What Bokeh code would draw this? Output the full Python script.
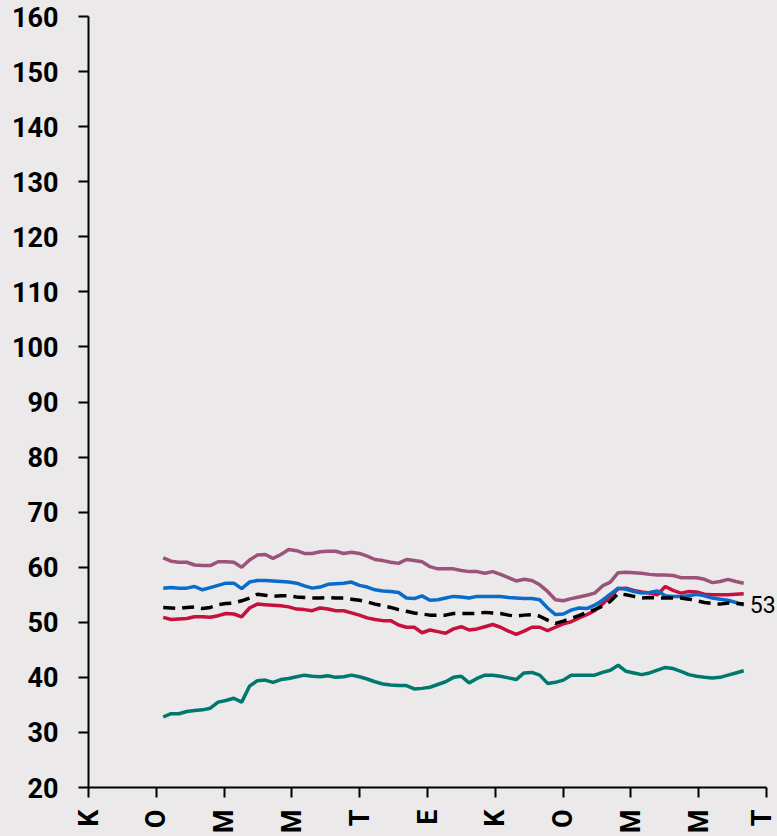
import math
import numpy as np
from bokeh.plotting import figure
from bokeh.models import Range1d, FixedTicker, Label
from bokeh.embed import file_html
from bokeh.resources import INLINE

# ---- data ----
tick_pos = list(range(11))
tick_labels = ["K", "O", "M", "M", "T", "E", "K", "O", "M", "M", "T"]
y_ticks = list(range(20, 161, 10))

series_purple = [61.7, 61.1, 60.9, 60.9, 60.4, 60.3, 60.3, 61.0, 61.0, 60.9,
                 60.0, 61.3, 62.2, 62.3, 61.6, 62.3, 63.2, 63.0, 62.5, 62.5,
                 62.8, 62.9, 62.9, 62.5, 62.7, 62.5, 62.0, 61.4, 61.2, 60.9,
                 60.7, 61.4, 61.2, 61.0, 60.1, 59.7, 59.7, 59.7, 59.4, 59.2,
                 59.2, 58.9, 59.2, 58.7, 58.1, 57.5, 57.8, 57.6, 56.8, 55.6,
                 54.1, 53.9, 54.3, 54.6, 54.9, 55.3, 56.6, 57.3, 59.0, 59.1,
                 59.0, 58.9, 58.7, 58.6, 58.6, 58.5, 58.1, 58.1, 58.1, 57.8,
                 57.2, 57.4, 57.8, 57.4, 57.1]
series_blue = [56.2, 56.3, 56.2, 56.2, 56.5, 55.9, 56.3, 56.7, 57.1, 57.1,
               56.1, 57.3, 57.6, 57.6, 57.5, 57.4, 57.3, 57.1, 56.6, 56.2,
               56.4, 56.9, 57.0, 57.1, 57.3, 56.7, 56.4, 55.9, 55.7, 55.6,
               55.4, 54.4, 54.3, 54.8, 54.0, 54.1, 54.4, 54.7, 54.6, 54.4,
               54.7, 54.7, 54.7, 54.7, 54.5, 54.4, 54.3, 54.3, 54.1, 52.6,
               51.4, 51.5, 52.2, 52.6, 52.5, 53.1, 54.0, 55.1, 56.2, 56.0,
               55.6, 55.3, 55.4, 55.7, 54.8, 54.7, 54.7, 54.8, 55.1, 54.8,
               54.4, 54.2, 54.0, 53.6, 53.1]
series_red = [50.9, 50.5, 50.6, 50.7, 51.0, 51.0, 50.9, 51.2, 51.6, 51.5,
              51.0, 52.6, 53.3, 53.2, 53.1, 53.0, 52.8, 52.4, 52.3, 52.1,
              52.6, 52.4, 52.1, 52.1, 51.7, 51.3, 50.8, 50.5, 50.3, 50.3,
              49.5, 49.1, 49.1, 48.1, 48.6, 48.3, 48.0, 48.8, 49.2, 48.6,
              48.8, 49.2, 49.6, 49.1, 48.4, 47.8, 48.4, 49.1, 49.1, 48.5,
              49.1, 49.7, 50.1, 50.8, 51.4, 52.1, 53.3, 54.7, 56.1, 56.2,
              55.8, 55.5, 55.3, 55.0, 56.5, 55.8, 55.3, 55.6, 55.5, 55.1,
              55.0, 55.0, 55.0, 55.1, 55.2]
series_avg = [52.7, 52.6, 52.5, 52.7, 52.8, 52.5, 52.7, 53.2, 53.4, 53.5,
              53.9, 54.4, 55.1, 54.9, 54.7, 54.8, 54.8, 54.6, 54.5, 54.4,
              54.4, 54.5, 54.4, 54.4, 54.2, 54.0, 53.7, 53.3, 53.0, 52.7,
              52.3, 52.0, 51.7, 51.5, 51.3, 51.3, 51.3, 51.6, 51.6, 51.6,
              51.6, 51.8, 51.7, 51.6, 51.3, 51.1, 51.3, 51.4, 51.1, 50.4,
              49.8, 50.2, 50.7, 51.2, 51.8, 52.3, 52.9, 53.8, 55.2, 55.0,
              54.7, 54.4, 54.5, 54.4, 54.4, 54.4, 54.4, 54.2, 53.9, 53.6,
              53.4, 53.3, 53.5, 53.4, 53.3]
series_teal = [32.8, 33.4, 33.4, 33.8, 34.0, 34.1, 34.4, 35.5, 35.8, 36.2,
               35.5, 38.4, 39.4, 39.5, 39.1, 39.6, 39.8, 40.1, 40.4, 40.2,
               40.1, 40.3, 40.0, 40.1, 40.4, 40.1, 39.7, 39.2, 38.8, 38.6,
               38.5, 38.5, 37.9, 38.0, 38.2, 38.7, 39.2, 40.0, 40.2, 39.0,
               39.8, 40.4, 40.4, 40.2, 39.9, 39.6, 40.8, 40.9, 40.4, 38.9,
               39.1, 39.5, 40.4, 40.4, 40.4, 40.4, 40.9, 41.3, 42.2, 41.1,
               40.8, 40.5, 40.8, 41.3, 41.8, 41.6, 41.1, 40.5, 40.2, 40.0,
               39.9, 40.0, 40.4, 40.8, 41.2]
end_label = "53"

# weekly positions on the 2-month tick scale
x0 = 1.102
dx = 0.1157
xs = [x0 + i * dx for i in range(len(series_avg))]

BG = "#EBE9EA"
FONT = "Roboto"

# frame spans 88..777 px; the axis line itself stops at tick 10 (766 px)
x_end = 10 + 11 / 67.8

p = figure(width=777, height=836,
           x_range=Range1d(0, x_end), y_range=Range1d(20, 160),
           output_backend="svg", toolbar_location=None,
           min_border_left=88, min_border_right=0,
           min_border_top=16, min_border_bottom=46,
           background_fill_color=BG, border_fill_color=BG,
           outline_line_color=None)
p.xgrid.visible = False
p.ygrid.visible = False

p.line(xs, series_purple, line_color="#9B5379", line_width=3.5)
p.line(xs, series_teal, line_color="#00796C", line_width=3.5)
p.line(xs, series_red, line_color="#C8103F", line_width=3.5)
p.line(xs, series_blue, line_color="#0B6BCB", line_width=3.5)
p.line(xs, series_avg, line_color="#000000", line_width=3.5, line_dash="12 7")

p.add_layout(Label(x=xs[-1], y=series_avg[-1], text=end_label,
                   x_offset=6, text_baseline="middle", text_align="left",
                   text_font=FONT, text_font_size="23px", text_color="#000000"))

for ax in (p.xaxis, p.yaxis):
    ax.axis_line_color = "#000000"
    ax.axis_line_width = 2
    ax.major_tick_line_color = "#000000"
    ax.major_tick_line_width = 2
    ax.major_tick_in = 0
    ax.major_tick_out = 10
    ax.minor_tick_line_color = None
    ax.major_label_text_font = FONT
    ax.major_label_text_font_size = "27px"
    ax.major_label_text_color = "#000000"
    ax.major_label_text_font_style = "bold"

p.yaxis.ticker = FixedTicker(ticks=y_ticks)
p.yaxis.major_label_standoff = 20
p.xaxis.ticker = FixedTicker(ticks=tick_pos)
p.xaxis.bounds = (0, 10)
p.xaxis.major_label_overrides = {t: l for t, l in zip(tick_pos, tick_labels)}
p.xaxis.major_label_orientation = math.pi / 2
p.xaxis.major_label_standoff = 12

html = file_html(p, INLINE)
html = html.replace("<head>", "<head><style>html,body{margin:0;padding:0;background:#EBE9EA;overflow:hidden;}</style>", 1)
open("out.html", "w").write(html)
